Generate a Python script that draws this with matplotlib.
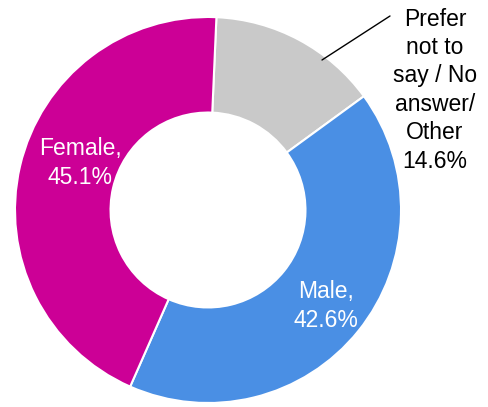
import matplotlib.pyplot as plt

plt.rcParams['font.family'] = ['Liberation Sans', 'DejaVu Sans']

# 性别构成数据
categories = ['Prefer not to say / No answer/ Other', 'Male', 'Female']
shares = [14.6, 42.6, 45.1]
colors = ['#C9C9C9', '#4A8FE4', '#CC0096']

W, H = 488, 407
fig = plt.figure(figsize=(W / 100, H / 100), dpi=100)
ax = fig.add_axes([0, 0, 1, 1])

cx, cy, r = 208, H - 210, 193
ax.pie(shares, colors=colors, startangle=87.5, counterclock=False,
       center=(cx, cy), radius=r, frame=True,
       wedgeprops=dict(width=r * 0.495, edgecolor='white', linewidth=1.5))
ax.set_xlim(0, W)
ax.set_ylim(0, H)
ax.set_aspect('equal')
ax.axis('off')

fs = 16.5
ls = 1.3
ax.text(80, H - 163, f'Female,\n{shares[2]}%', color='white', fontsize=fs,
        ha='center', va='center', linespacing=ls)
ax.text(326, H - 306, f'Male,\n{shares[1]}%', color='white', fontsize=fs,
        ha='center', va='center', linespacing=ls)
ax.text(435, H - 90, f'Prefer\nnot to\nsay / No\nanswer/\nOther\n{shares[0]}%',
        color='black', fontsize=fs, ha='center', va='center', linespacing=ls)
# 引导线
ax.annotate('', xy=(322, H - 60), xytext=(390, H - 16),
            arrowprops=dict(arrowstyle='-', color='black', lw=1,
                            shrinkA=0, shrinkB=0))

fig.savefig('out.png', dpi=100)
